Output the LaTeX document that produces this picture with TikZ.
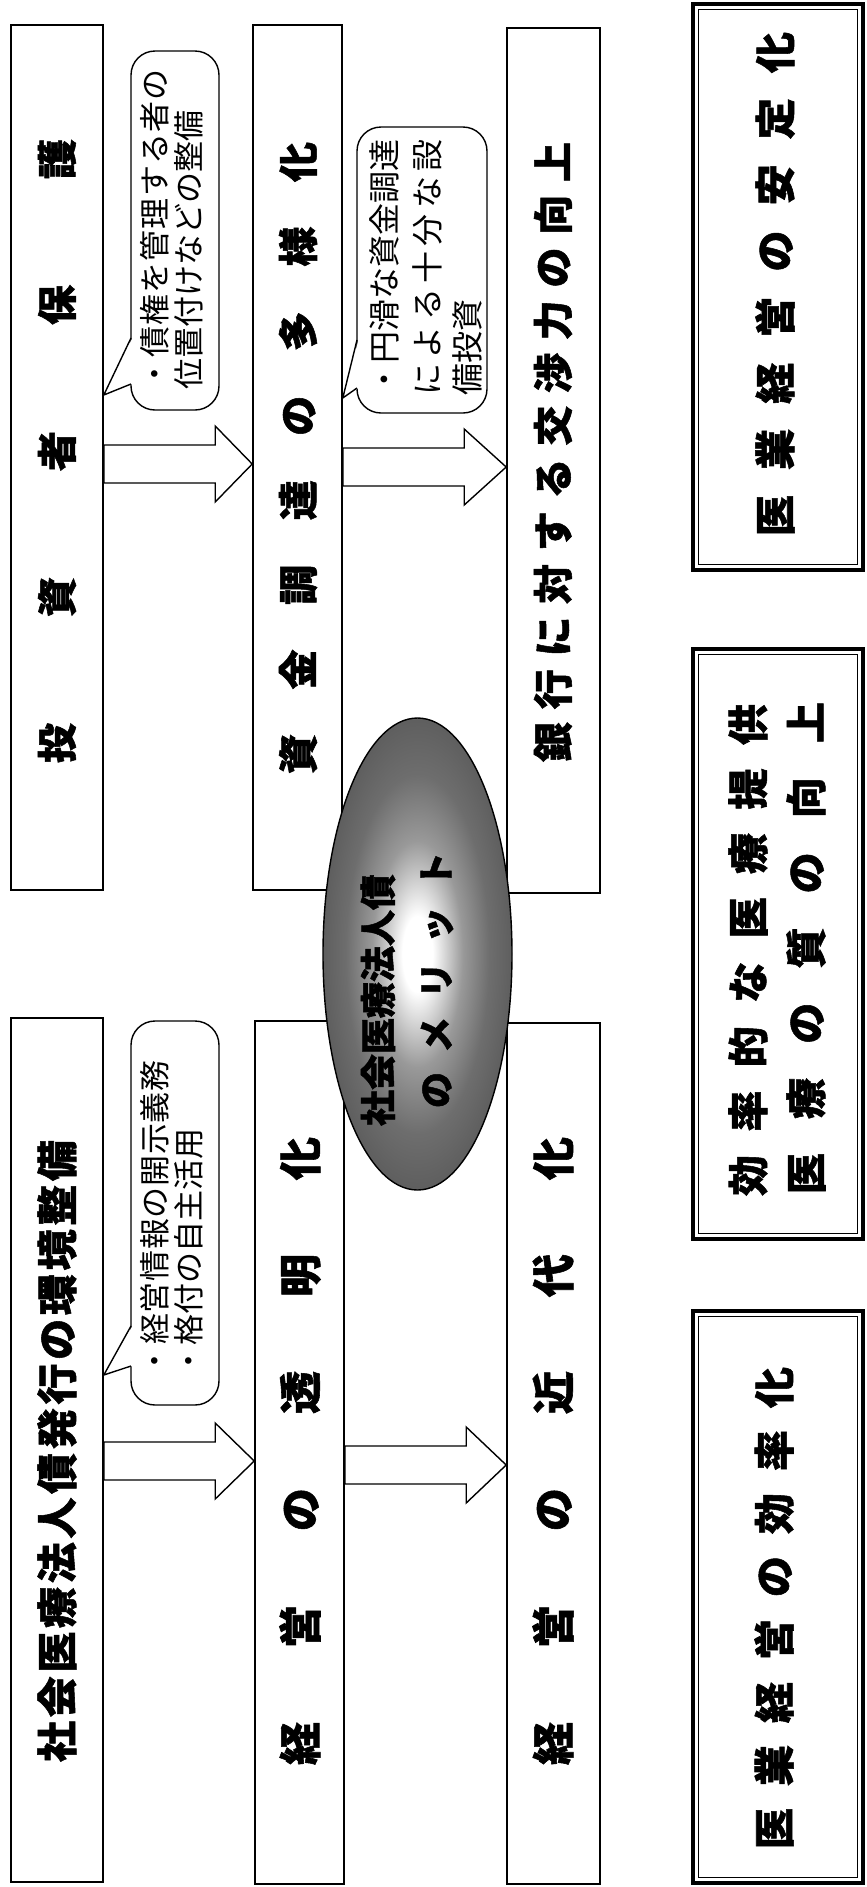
\documentclass[tikz,border=0pt]{standalone}
\usepackage{fontspec}
\newfontfamily\jp{Noto Sans CJK JP}[BoldFeatures={FakeBold=1.3}]
\usetikzlibrary{shapes.geometric,fit,calc}
\pgfdeclareradialshading{ellshade}{\pgfpoint{0bp}{0bp}}{%
 color(0bp)=(white); color(4bp)=(white); color(12bp)=(black!40); color(19bp)=(black!57); color(25bp)=(black!63); color(50bp)=(black!63)}
\newcommand\spr[2]{\makebox[#1][s]{#2}}
\tikzset{
  box/.style={draw, line width=0.8pt, inner sep=0pt, fill=white},
  dbox/.style={draw, line width=1.6pt, inner sep=0pt, fill=white},
  dinner/.style={line width=0.6pt},
  cbox/.style={draw, line width=0.7pt, inner sep=0pt, fill=white, rounded corners=12pt},
  cline/.style={line width=0.7pt},
  arr/.style={draw, line width=0.7pt, fill=white},
  ttl/.style={rotate=90, inner sep=0pt, font=\jp\bfseries\fontsize{#1}{#1}\selectfont},
  ttl/.default=20pt,
  ctext/.style={rotate=90, inner sep=0pt, anchor=west, font=\jp\fontsize{#1}{#1}\selectfont},
  ctext/.default=15.5pt,
  etext/.style={rotate=90, inner sep=0pt, font=\jp\bfseries\fontsize{18pt}{18pt}\selectfont},
  merit/.style={ellipse, draw, line width=0.7pt, rotate=90, inner sep=0pt,
    minimum width=236pt, minimum height=94.5pt, shading=ellshade}
}
\newcommand\barrow[4]{%
  \coordinate (s) at (#1.east |- #3);
  \coordinate (t) at (#2.west |- #3);
  \draw[arr] ($(s)+(0,-19)$) -- ($(t)+(-#4,-19)$) -- ($(t)+(-#4,-38)$) -- (t)
    -- ($(t)+(-#4,38)$) -- ($(t)+(-#4,19)$) -- ($(s)+(0,19)$) -- cycle;
}
\newcommand\dinnerbox[1]{%
  \draw[dinner] ($(#1.north west)+(3.5pt,-3.5pt)$) rectangle ($(#1.south east)+(-3.5pt,3.5pt)$);
}
\begin{document}
\begin{tikzpicture}[x=0.5pt,y=-0.5pt]
\useasboundingbox (0,0) rectangle (867,1887);
\fill[white] (0,0) rectangle (867,1887);

% main boxes
\node[box, fit={(11,25) (103,890)}] (b1) {};
\node[box, fit={(253,25) (342,890)}] (b2) {};
\node[box, fit={(507,28) (600,893)}] (b3) {};
\node[box, fit={(11,1018) (103,1882)}] (b4) {};
\node[box, fit={(255,1021) (344,1884)}] (b5) {};
\node[box, fit={(507,1023) (600,1884)}] (b6) {};

% right double boxes
\node[dbox, fit={(693,4) (863,570)}] (r1) {};
\dinnerbox{r1}
\node[dbox, fit={(693,649) (863,1239)}] (r2) {};
\dinnerbox{r2}
\node[dbox, fit={(693,1311) (863,1883)}] (r3) {};
\dinnerbox{r3}

% block arrows
\coordinate (ya) at (0,464);
\coordinate (yb) at (0,467);
\coordinate (yc) at (0,1461);
\coordinate (yd) at (0,1465);
\barrow{b1}{b2}{ya}{37}
\barrow{b2}{b3}{yb}{42}
\barrow{b4}{b5}{yc}{39}
\barrow{b5}{b6}{yd}{40}

% callout 1
\node[cbox, fit={(131,51) (219,410)}] (c1) {};
\coordinate (c1a) at (131,338);
\coordinate (c1b) at (131,384);
\coordinate (c1y) at (0,395);
\coordinate (c1t) at (b1.east |- c1y);
\fill[white] ($(c1a)+(1.5,0)$) -- (c1t) -- ($(c1b)+(1.5,0)$) -- cycle;
\draw[cline] (c1a) -- (c1t) -- (c1b);
\node[ctext] (c1l1) at (155,390) {\spr{160pt}{・\hfill 債\hfill 権\hfill を\hfill 管\hfill 理\hfill す\hfill る\hfill 者\hfill の}};
\node[ctext] (c1l2) at (189,390) {位置付けなどの整備};

% callout 2
\node[cbox, fit={(357,127) (487,413)}] (c2) {};
\coordinate (c2a) at (357,340);
\coordinate (c2b) at (357,388);
\coordinate (c2y) at (0,398);
\coordinate (c2t) at (b2.east |- c2y);
\fill[white] ($(c2a)+(1.5,0)$) -- (c2t) -- ($(c2b)+(1.5,0)$) -- cycle;
\draw[cline] (c2a) -- (c2t) -- (c2b);
\node[ctext=16pt] (c2l1) at (384,396) {\spr{128pt}{・\hfill 円\hfill 滑\hfill な\hfill 資\hfill 金\hfill 調\hfill 達}};
\node[ctext=16pt] (c2l2) at (427,396) {\spr{128pt}{に\hfill よ\hfill る\hfill 十\hfill 分\hfill な\hfill 設}};
\node[ctext=16pt] (c2l3) at (467,396) {備投資};

% callout 3
\node[cbox, fit={(131,1021) (219,1405)}] (c3) {};
\coordinate (c3a) at (131,1326);
\coordinate (c3b) at (131,1366);
\coordinate (c3y) at (0,1375);
\coordinate (c3t) at (b4.east |- c3y);
\fill[white] ($(c3a)+(1.5,0)$) -- (c3t) -- ($(c3b)+(1.5,0)$) -- cycle;
\draw[cline] (c3a) -- (c3t) -- (c3b);
\node[ctext] (c3l1) at (155,1377) {\spr{158pt}{・\hfill 経\hfill 営\hfill 情\hfill 報\hfill の\hfill 開\hfill 示\hfill 義\hfill 務}};
\node[ctext] (c3l2) at (189,1377) {・格付の自主活用};

% titles
\node[ttl] (t1) at (57,451) {\spr{312pt}{投\hfill 資\hfill 者\hfill 保\hfill 護}};
\node[ttl] (t2) at (298,458) {\spr{316pt}{資\hfill 金\hfill 調\hfill 達\hfill の\hfill 多\hfill 様\hfill 化}};
\node[ttl] (t3) at (553,452) {\spr{310pt}{銀\hfill 行\hfill に\hfill 対\hfill す\hfill る\hfill 交\hfill 渉\hfill 力\hfill の\hfill 向\hfill 上}};
\node[ttl=20.5pt] (t4) at (57,1451) {\spr{311pt}{社\hfill 会\hfill 医\hfill 療\hfill 法\hfill 人\hfill 債\hfill 発\hfill 行\hfill の\hfill 環\hfill 境\hfill 整\hfill 備}};
\node[ttl=21.5pt] (t5) at (300,1451) {\spr{314pt}{経\hfill 営\hfill の\hfill 透\hfill 明\hfill 化}};
\node[ttl=21.5pt] (t6) at (553,1451) {\spr{314pt}{経\hfill 営\hfill の\hfill 近\hfill 代\hfill 化}};
\node[ttl=20.5pt] (rt1) at (775,284) {\spr{252pt}{医\hfill 業\hfill 経\hfill 営\hfill の\hfill 安\hfill 定\hfill 化}};
\node[ttl=20.5pt] (rt2a) at (748,950) {\spr{246pt}{効\hfill 率\hfill 的\hfill な\hfill 医\hfill 療\hfill 提\hfill 供}};
\node[ttl=20.5pt] (rt2b) at (806,948) {\spr{246pt}{医\hfill 療\hfill の\hfill 質\hfill の\hfill 向\hfill 上}};
\node[ttl=20.5pt] (rt3) at (774,1608) {\spr{241pt}{医\hfill 業\hfill 経\hfill 営\hfill の\hfill 効\hfill 率\hfill 化}};

% central ellipse
\node[merit] (m) at (417.5,954) {};
\node[etext] (e1) at (378,1002) {\spr{124pt}{社\hfill 会\hfill 医\hfill 療\hfill 法\hfill 人\hfill 債}};
\node[etext] (e2) at (437,980) {\spr{128pt}{の\hfill メ\hfill リ\hfill ッ\hfill ト}};
\end{tikzpicture}
\end{document}
